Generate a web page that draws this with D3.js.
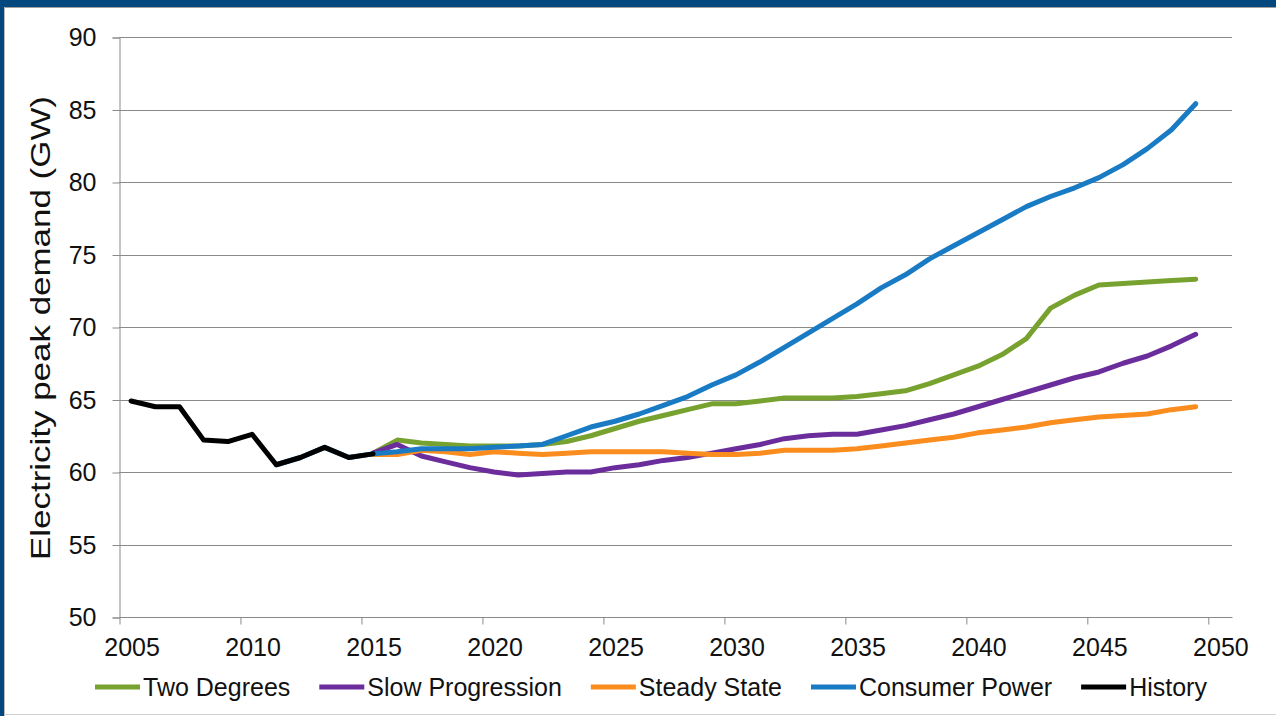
<!DOCTYPE html>
<html>
<head>
<meta charset="utf-8">
<script src="https://cdn.jsdelivr.net/npm/d3@7"></script>
<style>
  html, body { margin: 0; padding: 0; background: #fff; }
  svg { display: block; }
  text { font-family: "Liberation Sans", Arial, sans-serif; fill: #111; }
</style>
</head>
<body>
<svg id="chart" width="1276" height="716"></svg>
<script>
// ---- data ----
const years = d3.range(2005, 2050); // 2005..2049
const axisYears = [2005, 2010, 2015, 2020, 2025, 2030, 2035, 2040, 2045, 2050];
const yTicks = [50, 55, 60, 65, 70, 75, 80, 85, 90];

// History 2005..2015
const history = [64.9, 64.5, 64.5, 62.2, 62.1, 62.6, 60.5, 61.0, 61.7, 61.0, 61.25];
// Scenarios 2015..2049
const twoDegrees = [61.3, 62.2, 62.0, 61.9, 61.8, 61.8, 61.8, 61.9, 62.1, 62.5,
  63.0, 63.5, 63.9, 64.3, 64.7, 64.7, 64.9, 65.1, 65.1, 65.1,
  65.2, 65.4, 65.6, 66.1, 66.7, 67.3, 68.1, 69.2, 71.3, 72.2,
  72.9, 73.0, 73.1, 73.2, 73.3];
const slowProgression = [61.3, 61.9, 61.1, 60.7, 60.3, 60.0, 59.8, 59.9, 60.0, 60.0,
  60.3, 60.5, 60.8, 61.0, 61.3, 61.6, 61.9, 62.3, 62.5, 62.6,
  62.6, 62.9, 63.2, 63.6, 64.0, 64.5, 65.0, 65.5, 66.0, 66.5,
  66.9, 67.5, 68.0, 68.7, 69.5];
const steadyState = [61.2, 61.2, 61.5, 61.4, 61.2, 61.4, 61.3, 61.2, 61.3, 61.4,
  61.4, 61.4, 61.4, 61.3, 61.2, 61.2, 61.3, 61.5, 61.5, 61.5,
  61.6, 61.8, 62.0, 62.2, 62.4, 62.7, 62.9, 63.1, 63.4, 63.6,
  63.8, 63.9, 64.0, 64.3, 64.5];
// Consumer Power 2011..2049 (first years coincide with history)
const consumerPower = [60.5, 61.0, 61.7, 61.0, 61.25,
  61.4, 61.6, 61.6, 61.6, 61.7, 61.8, 61.9, 62.5, 63.1,
  63.5, 64.0, 64.6, 65.2, 66.0, 66.7, 67.6, 68.6, 69.6, 70.6,
  71.6, 72.7, 73.6, 74.7, 75.6, 76.5, 77.4, 78.3, 79.0, 79.6,
  80.3, 81.2, 82.3, 83.6, 85.4];

const seriesNames = ["Two Degrees", "Slow Progression", "Steady State", "Consumer Power", "History"];
const seriesColors = ["#78A22F", "#6B2D9B", "#FB8C1E", "#1A7BC5", "#000000"];
const seriesStart = [2015, 2015, 2015, 2011, 2005];
const seriesValues = [twoDegrees, slowProgression, steadyState, consumerPower, history];

// ---- layout ----
const svg = d3.select("#chart");
const plot = { left: 119, right: 1232, top: 37, bottom: 617 };

// frame
svg.append("rect").attr("x", 0).attr("y", 0).attr("width", 1276).attr("height", 716).attr("fill", "#fff");
svg.append("rect").attr("x", 0).attr("y", 0).attr("width", 1276).attr("height", 7).attr("fill", "#03477F");
svg.append("rect").attr("x", 0).attr("y", 0).attr("width", 4).attr("height", 716).attr("fill", "#03477F");
svg.append("line").attr("x1", 4).attr("x2", 1276).attr("y1", 7.5).attr("y2", 7.5).attr("stroke", "#a0a0a0");
svg.append("line").attr("x1", 4.5).attr("x2", 4.5).attr("y1", 7).attr("y2", 716).attr("stroke", "#b8b8b8");
svg.append("line").attr("x1", 4).attr("x2", 1276).attr("y1", 714.5).attr("y2", 714.5).attr("stroke", "#d0d0d0");

// scales: category slots, one per year, 2005..2050
const x = d3.scaleLinear().domain([2005, 2051]).range([plot.left, plot.right]);
const half = (x(2006) - x(2005)) / 2;
const y = d3.scaleLinear().domain([50, 90]).range([plot.bottom, plot.top]);

// gridlines
svg.append("g")
  .selectAll("line")
  .data(yTicks.filter(d => d > 50))
  .join("line")
  .attr("x1", plot.left).attr("x2", plot.right)
  .attr("y1", d => Math.round(y(d)) + 0.5).attr("y2", d => Math.round(y(d)) + 0.5)
  .attr("stroke", "#8a8a8a").attr("stroke-width", 1);

// y axis
const yAxis = svg.append("g")
  .attr("transform", `translate(${plot.left + 0.5},0.5)`)
  .call(d3.axisLeft(y).tickValues(yTicks).tickSize(7).tickPadding(16).tickFormat(d3.format("d")));
yAxis.select(".domain").attr("stroke", "#8a8a8a");
yAxis.selectAll(".tick line").attr("stroke", "#8a8a8a");
yAxis.selectAll(".tick text").attr("font-size", 25).attr("fill", "#111")
  .attr("font-family", "'Liberation Sans', Arial, sans-serif");

// x axis
const xAxis = svg.append("g")
  .attr("transform", `translate(0.5,${plot.bottom + 0.5})`)
  .call(d3.axisBottom(x).tickValues(axisYears).tickSize(7).tickPadding(14).tickFormat(d3.format("d")));
xAxis.select(".domain").attr("stroke", "#8a8a8a").attr("d", `M${plot.left},0H${plot.right}`);
xAxis.selectAll(".tick line").attr("stroke", "#8a8a8a");
xAxis.selectAll(".tick text").attr("font-size", 25).attr("fill", "#111")
  .attr("x", half)
  .attr("font-family", "'Liberation Sans', Arial, sans-serif");

// y title
svg.append("text")
  .attr("transform", `translate(50,328) rotate(-90)`)
  .attr("text-anchor", "middle")
  .attr("font-size", 28)
  .attr("textLength", 464)
  .attr("lengthAdjust", "spacingAndGlyphs")
  .text("Electricity peak demand (GW)");

// lines
const line = d3.line()
  .defined(d => d.v != null)
  .x(d => x(d.year) + half)
  .y(d => y(d.v))
  .curve(d3.curveLinear);

seriesNames.forEach((name, i) => {
  const pts = seriesValues[i].map((v, k) => ({ year: seriesStart[i] + k, v }));
  svg.append("path")
    .datum(pts)
    .attr("fill", "none")
    .attr("stroke", seriesColors[i])
    .attr("stroke-width", 5)
    .attr("stroke-linejoin", "round")
    .attr("stroke-linecap", "round")
    .attr("d", line);
});

// legend
const legend = svg.append("g").attr("transform", "translate(95,687)");
let lx = 0;
seriesNames.forEach((name, i) => {
  const g = legend.append("g").attr("transform", `translate(${lx},0)`);
  g.append("line").attr("x1", 0).attr("x2", 45).attr("y1", 0).attr("y2", 0)
    .attr("stroke", seriesColors[i]).attr("stroke-width", 5);
  const t = g.append("text").attr("x", 48).attr("y", 8.5).attr("font-size", 25).text(name);
  lx += 48 + t.node().getComputedTextLength() + 29;
});
</script>
</body>
</html>
